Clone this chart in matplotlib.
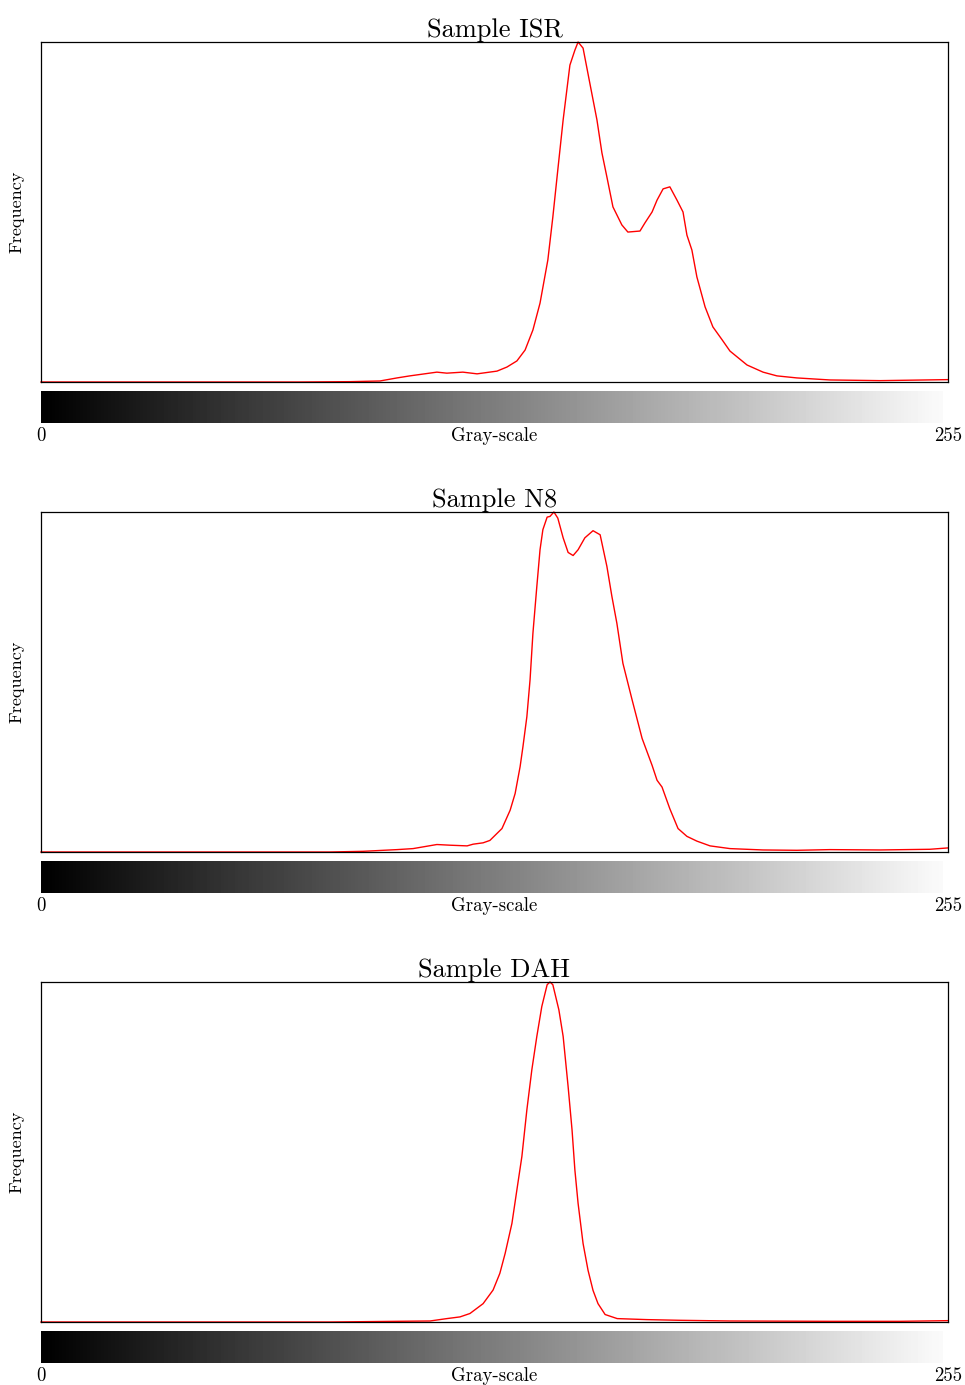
import numpy as np
import matplotlib
matplotlib.use("Agg")
import matplotlib.pyplot as plt

plt.rcParams["font.family"] = ["cmr10", "DejaVu Serif"]
plt.rcParams["axes.formatter.use_mathtext"] = True

# gray level / normalised frequency
isr_gray = [0, 72.8, 86.9, 95.3, 100.1, 103.7, 111.3, 114.1, 118.6, 122.6, 128.2, 131.0,
            133.8, 136.1, 138.3, 140.3, 142.5, 143.9, 145.3, 146.8, 148.7, 150.1, 151.0,
            152.4, 154.3, 156.3, 157.7, 159.1, 160.8, 163.3, 165.0, 168.4, 169.8, 171.8,
            173.2, 174.9, 176.8, 178.8, 180.5, 181.6, 183.0, 184.4, 186.7, 188.9, 191.5,
            193.7, 198.5, 203.0, 206.9, 212.5, 221.8, 235.9, 255]
isr_freq = [0, 0, 0.001, 0.003, 0.012, 0.018, 0.029, 0.026, 0.029, 0.024, 0.032, 0.044,
            0.062, 0.094, 0.153, 0.232, 0.359, 0.485, 0.624, 0.771, 0.932, 0.976, 1.0,
            0.982, 0.879, 0.771, 0.674, 0.603, 0.515, 0.462, 0.441, 0.444, 0.468, 0.500,
            0.535, 0.568, 0.574, 0.535, 0.500, 0.432, 0.388, 0.309, 0.221, 0.162, 0.124,
            0.091, 0.050, 0.029, 0.018, 0.012, 0.006, 0.004, 0.007]

n8_gray = [0, 81.2, 90.5, 100.1, 104.6, 111.3, 115.0, 119.8, 121.5, 124.3, 126.2, 129.6,
           131.9, 133.3, 134.7, 135.5, 136.6, 137.5, 138.3, 139.4, 140.3, 141.1, 142.3,
           143.1, 144.2, 145.3, 146.8, 148.2, 149.6, 151.0, 152.9, 155.2, 157.2, 159.1,
           160.5, 161.9, 163.6, 166.2, 169.0, 171.8, 173.2, 174.6, 176.8, 179.1, 181.6,
           184.4, 188.1, 193.7, 203.0, 212.5, 221.8, 235.9, 249.9, 255]
n8_freq = [0, 0, 0.002, 0.007, 0.010, 0.022, 0.020, 0.018, 0.023, 0.027, 0.034, 0.069,
           0.123, 0.172, 0.251, 0.310, 0.398, 0.507, 0.643, 0.781, 0.889, 0.948, 0.985,
           0.987, 1.0, 0.982, 0.924, 0.881, 0.872, 0.889, 0.924, 0.945, 0.933, 0.840,
           0.752, 0.673, 0.555, 0.447, 0.334, 0.255, 0.211, 0.191, 0.127, 0.069, 0.046,
           0.032, 0.018, 0.010, 0.006, 0.005, 0.007, 0.006, 0.008, 0.012]

dah_gray = [0, 81.2, 109.4, 114.1, 117.8, 120.6, 124.3, 127.1, 129.0, 130.5, 132.4, 133.8,
            135.2, 136.6, 138.0, 139.4, 140.8, 142.3, 143.1, 143.9, 145.6, 146.8, 148.2,
            149.3, 150.1, 151.0, 152.4, 153.8, 155.2, 156.6, 158.6, 162.0, 170.4, 179.6,
            193.7, 221.8, 241.5, 255]
dah_freq = [0, 0, 0.003, 0.010, 0.015, 0.025, 0.054, 0.094, 0.143, 0.202, 0.290, 0.389,
            0.487, 0.624, 0.742, 0.840, 0.928, 0.992, 1.0, 0.992, 0.918, 0.840, 0.692,
            0.565, 0.447, 0.349, 0.231, 0.152, 0.093, 0.054, 0.022, 0.010, 0.007, 0.005,
            0.003, 0.002, 0.002, 0.004]

titles = ["Sample ISR", "Sample N8", "Sample DAH"]
series = [(isr_gray, isr_freq), (n8_gray, n8_freq), (dah_gray, dah_freq)]

W, H = 965, 1385
fig = plt.figure(figsize=(W / 100, H / 100), dpi=100)

tops = [42, 512, 982]
gradient = np.linspace(0, 250, 256).reshape(1, -1)

for top, title, (gx, fy) in zip(tops, titles, series):
    ax = fig.add_axes([41 / W, 1 - (top + 340) / H, 907 / W, 340 / H])
    ax.plot(gx, fy, color="red", lw=1.0, clip_on=False)
    ax.set_xlim(0, 255)
    ax.set_ylim(0, 1.0)
    ax.set_xticks([])
    ax.set_yticks([])
    for sp in ax.spines.values():
        sp.set_linewidth(0.9)
    ax.set_title(title, fontsize=19, pad=0)
    ax.set_ylabel("Frequency", fontsize=13)
    ax.yaxis.set_label_coords(-0.018, 0.5)

    bar = fig.add_axes([41 / W, 1 - (top + 381) / H, 902 / W, 32 / H])
    bar.imshow(gradient, cmap="gray", aspect="auto", vmin=0, vmax=255)
    bar.axis("off")

    trans = ax.get_xaxis_transform()
    ax.text(0, -0.159, "0", transform=trans, ha="center", va="center", fontsize=13.5)
    ax.text(127.5, -0.159, "Gray-scale", transform=trans, ha="center", va="center", fontsize=13.5)
    ax.text(255, -0.159, "255", transform=trans, ha="center", va="center", fontsize=13.5)

fig.savefig("out.png", dpi=100)
